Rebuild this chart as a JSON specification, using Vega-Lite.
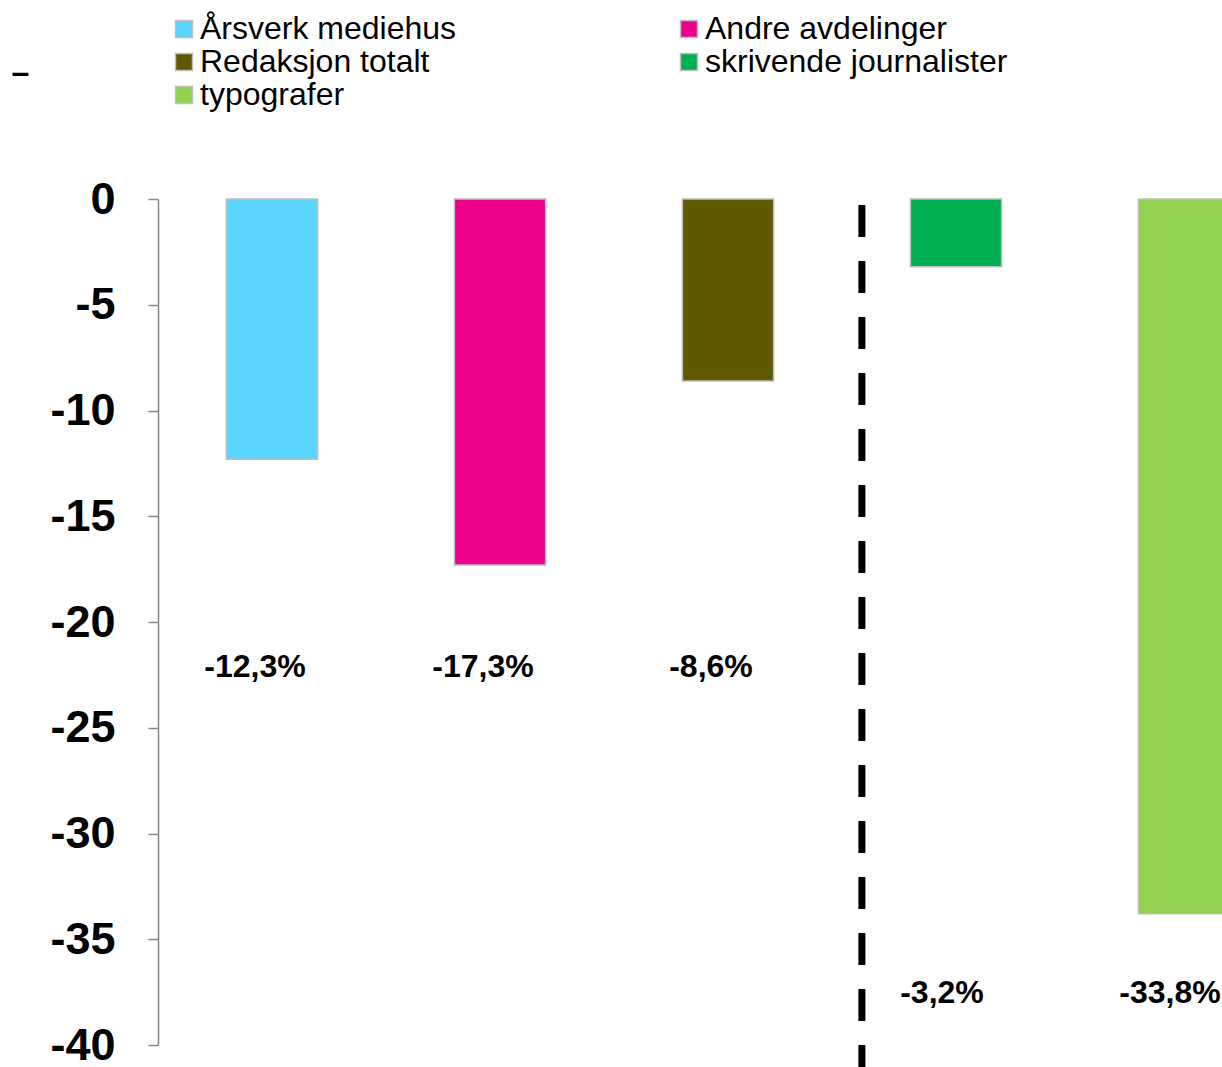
{
  "$schema": "https://vega.github.io/schema/vega-lite/v6.json",
  "width": 1140,
  "height": 846,
  "autosize": {"type": "none"},
  "padding": {"left": 158, "top": 199, "right": 0, "bottom": 22},
  "background": "white",
  "config": {"font": "Liberation Sans", "view": {"stroke": null}},
  "data": {
    "values": [
      {"cat": "Årsverk mediehus", "value": -12.3, "label": "-12,3%"},
      {"cat": "Andre avdelinger", "value": -17.3, "label": "-17,3%"},
      {"cat": "Redaksjon totalt", "value": -8.6, "label": "-8,6%"},
      {"cat": "skrivende journalister", "value": -3.2, "label": "-3,2%"},
      {"cat": "typografer", "value": -33.8, "label": "-33,8%"}
    ]
  },
  "layer": [
    {
      "mark": {"type": "bar", "stroke": "#BFBFBF", "strokeWidth": 1.5},
      "encoding": {
        "x": {
          "field": "cat", "type": "nominal", "sort": null,
          "scale": {
            "domain": ["Årsverk mediehus", "Andre avdelinger", "Redaksjon totalt", "skrivende journalister", "typografer"],
            "paddingInner": 0.6, "paddingOuter": 0.3
          },
          "axis": null
        },
        "y": {
          "field": "value", "type": "quantitative",
          "scale": {"domain": [-40, 0], "nice": false},
          "axis": {
            "values": [0, -5, -10, -15, -20, -25, -30, -35, -40],
            "labelExpr": "datum.value + ''",
            "labelFontSize": 45,
            "labelFontWeight": "bold",
            "labelColor": "black",
            "labelPadding": 33,
            "tickSize": 10,
            "tickColor": "#888888",
            "tickWidth": 1.5,
            "domainColor": "#888888",
            "domainWidth": 1.5,
            "grid": false,
            "title": "–",
            "titleAngle": 0,
            "titleX": -147,
            "titleY": -127,
            "titleFontSize": 32,
            "titleFontWeight": "bold",
            "titleColor": "black",
            "titleAlign": "left",
            "titleBaseline": "middle"
          }
        },
        "color": {
          "field": "cat", "type": "nominal", "sort": null,
          "scale": {
            "domain": ["Årsverk mediehus", "Redaksjon totalt", "typografer", "Andre avdelinger", "skrivende journalister"],
            "range": ["#5BD3FF", "#5F5A00", "#92D050", "#EC008C", "#00B050"]
          },
          "legend": {
            "title": null,
            "orient": "none",
            "legendX": 10,
            "legendY": -186,
            "columns": 2,
            "symbolType": "square",
            "symbolSize": 289,
            "symbolStrokeColor": "#BFBFBF",
            "symbolStrokeWidth": 1.5,
            "labelFontSize": 32,
            "labelColor": "black",
            "labelOffset": 0,
            "labelLimit": 0,
            "rowPadding": 1,
            "columnPadding": 216
          }
        }
      }
    },
    {
      "transform": [{"filter": {"field": "cat", "oneOf": ["Årsverk mediehus", "Andre avdelinger", "Redaksjon totalt"]}}],
      "mark": {"type": "text", "fontSize": 32, "fontWeight": "bold", "color": "black", "dx": -17, "baseline": "middle"},
      "encoding": {
        "x": {"field": "cat", "type": "nominal", "sort": null},
        "y": {"datum": -22.13},
        "text": {"field": "label"}
      }
    },
    {
      "transform": [{"filter": {"field": "cat", "oneOf": ["skrivende journalister", "typografer"]}}],
      "mark": {"type": "text", "fontSize": 32, "fontWeight": "bold", "color": "black", "dx": -14, "baseline": "middle"},
      "encoding": {
        "x": {"field": "cat", "type": "nominal", "sort": null},
        "y": {"datum": -37.54},
        "text": {"field": "label"}
      }
    },
    {
      "data": {"values": [{"divider": "skrivende journalister"}]},
      "mark": {"type": "rule", "color": "black", "strokeWidth": 7, "strokeDash": [32, 24], "xOffset": -48.5},
      "encoding": {
        "x": {"field": "divider", "type": "nominal", "sort": null, "bandPosition": 0},
        "y": {"datum": -0.28},
        "y2": {"datum": -41.2}
      }
    }
  ]
}
